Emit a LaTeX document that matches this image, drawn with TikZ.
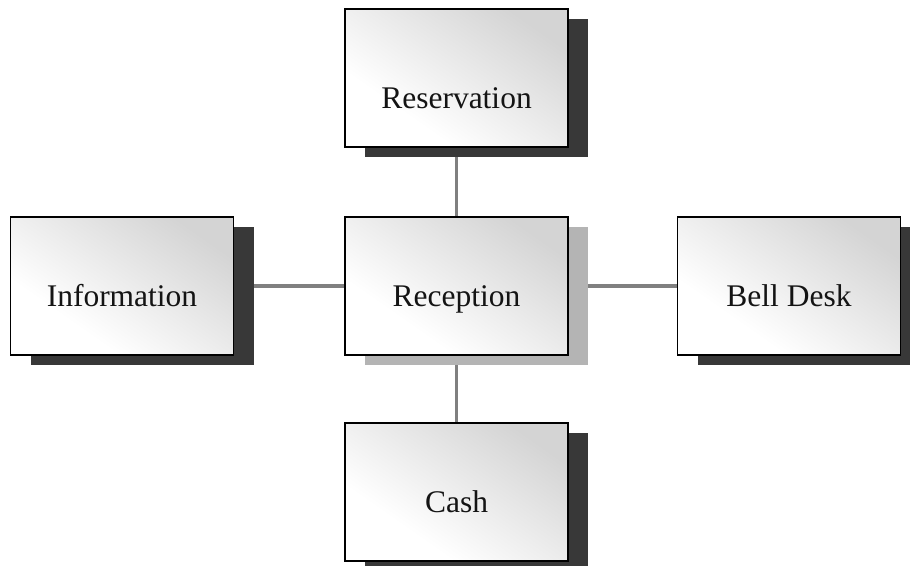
\documentclass[tikz,border=0pt]{standalone}
\usepackage{fontspec}
\setmainfont{Liberation Serif}
\usetikzlibrary{shadows,backgrounds}
\definecolor{boxgray}{HTML}{D4D4D4}
\definecolor{shadowdark}{HTML}{383838}
\definecolor{shadowlight}{HTML}{B4B4B4}
\definecolor{linkgray}{HTML}{808080}
\pgfdeclareverticalshading{boxshade}{100bp}{color(0bp)=(white); color(33bp)=(white); color(75bp)=(boxgray); color(100bp)=(boxgray)}
\begin{document}
\begin{tikzpicture}[x=1pt,y=-1pt,
  box/.style={draw=black, line width=1.6pt, minimum width=223pt, minimum height=138pt,
    inner sep=0pt, shading=boxshade, shading angle=-35,
    font=\fontsize{31.5}{36}\selectfont, text=black!92, text height=48pt, text depth=7pt,
    drop shadow={shadow xshift=20pt, shadow yshift=-10pt, fill=shadowdark, opacity=1}},
  lightbox/.style={box, drop shadow={shadow xshift=20pt, shadow yshift=-10pt, fill=shadowlight, opacity=1}},
  link/.style={draw=linkgray, line width=3.5pt}]
\useasboundingbox (0,0) rectangle (910,565);
\node[box, text height=68pt] (res) at (456.5,78) {Reservation};
\node[box] (info) at (122,286) {Information};
\node[lightbox] (rec) at (456.5,286) {Reception};
\node[box] (bell) at (789,286) {Bell Desk};
\node[box] (cash) at (456.5,492) {Cash};
\begin{scope}[on background layer]
\fill[white] (0,0) rectangle (910,565);
\draw[link] (res) -- (rec);
\draw[link] (info) -- (rec);
\draw[link] (rec) -- (bell);
\draw[link] (rec) -- (cash);
\end{scope}
\end{tikzpicture}
\end{document}
